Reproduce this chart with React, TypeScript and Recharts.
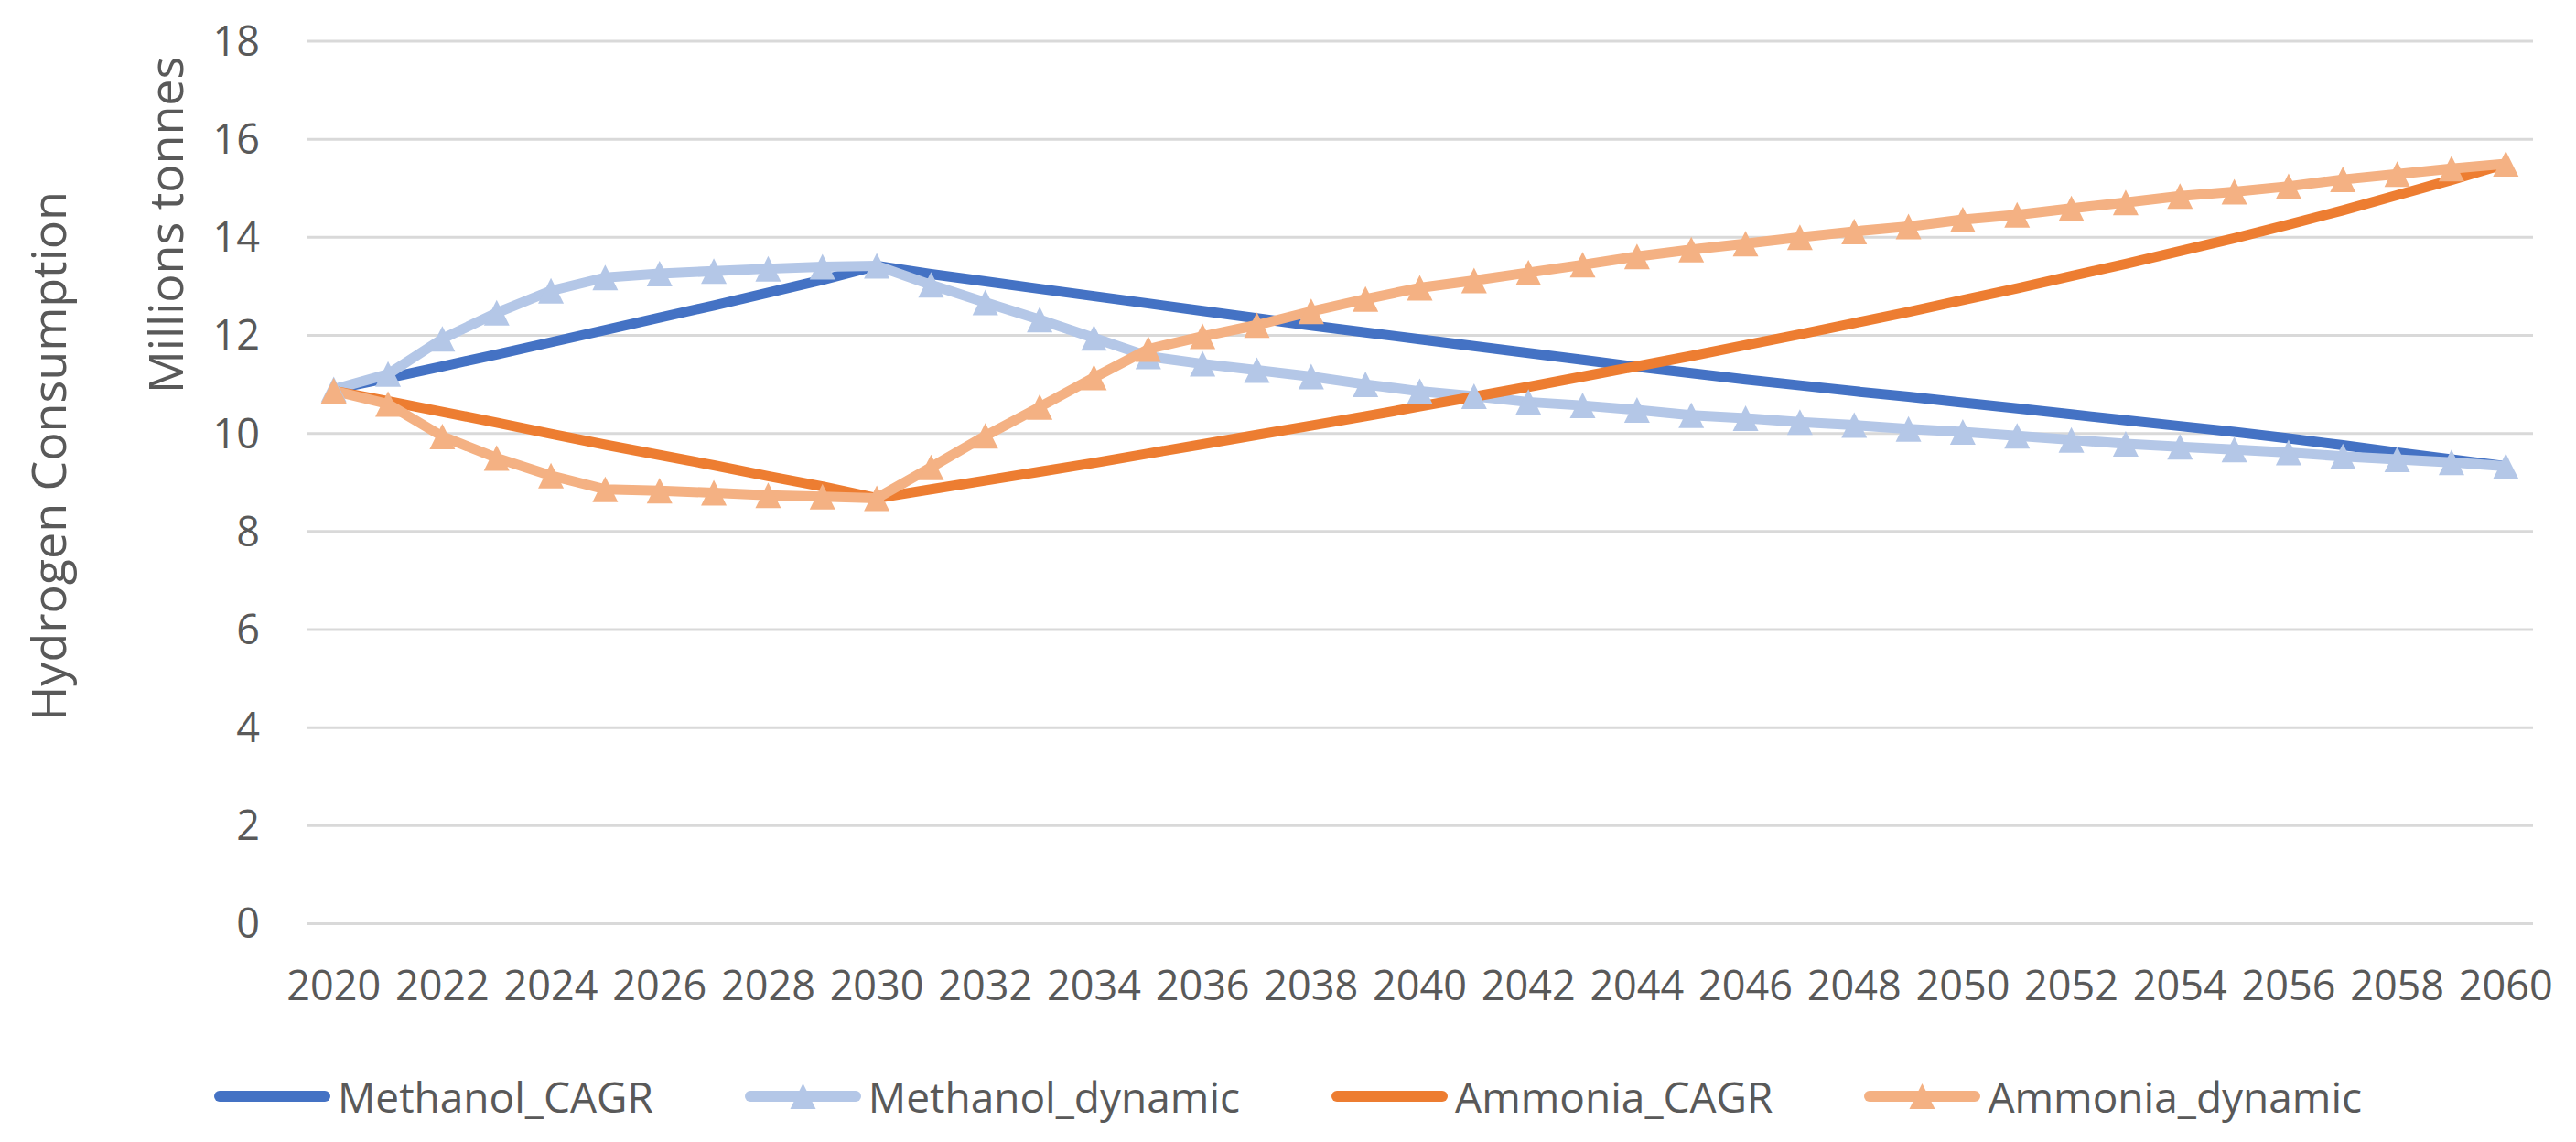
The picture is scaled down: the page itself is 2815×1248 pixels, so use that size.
import React from 'react';
import { LineChart, Line, XAxis, YAxis, CartesianGrid, Legend } from 'recharts';

const years = [
  '2020', '2021', '2022', '2023', '2024', '2025', '2026', '2027', '2028', '2029', '2030',
  '2031', '2032', '2033', '2034', '2035', '2036', '2037', '2038', '2039', '2040',
  '2041', '2042', '2043', '2044', '2045', '2046', '2047', '2048', '2049', '2050',
  '2051', '2052', '2053', '2054', '2055', '2056', '2057', '2058', '2059', '2060',
];

const methanolCAGR = [
  10.9, 11.13, 11.37, 11.61, 11.86, 12.11, 12.36, 12.61, 12.87, 13.13, 13.42,
  13.25, 13.1, 12.95, 12.8, 12.65, 12.5, 12.35, 12.2, 12.06, 11.92,
  11.78, 11.64, 11.5, 11.36, 11.23, 11.1, 10.98, 10.86, 10.75, 10.63,
  10.51, 10.39, 10.27, 10.15, 10.03, 9.9, 9.76, 9.61, 9.47, 9.33,
];

const methanolDynamic = [
  10.9, 11.21, 11.93, 12.46, 12.91, 13.18, 13.26, 13.31, 13.36, 13.4, 13.42,
  13.03, 12.67, 12.32, 11.95, 11.57, 11.42, 11.29, 11.16, 11.0, 10.86,
  10.76, 10.64, 10.57, 10.48, 10.37, 10.31, 10.23, 10.17, 10.09, 10.03,
  9.95, 9.87, 9.79, 9.73, 9.67, 9.61, 9.53, 9.47, 9.41, 9.33,
];

const ammoniaCAGR = [
  10.87, 10.66, 10.44, 10.22, 9.99, 9.77, 9.56, 9.35, 9.13, 8.92, 8.68,
  8.86, 9.04, 9.22, 9.4, 9.59, 9.78, 9.97, 10.16, 10.35, 10.55,
  10.75, 10.95, 11.16, 11.37, 11.58, 11.8, 12.02, 12.25, 12.48, 12.72,
  12.96, 13.21, 13.46, 13.72, 13.98, 14.26, 14.55, 14.86, 15.17, 15.5,
];

const ammoniaDynamic = [
  10.87, 10.6, 9.94, 9.5, 9.14, 8.86, 8.83, 8.79, 8.74, 8.71, 8.68,
  9.31, 9.95, 10.54, 11.14, 11.72, 11.98, 12.21, 12.49, 12.74, 12.97,
  13.12, 13.28, 13.44, 13.61, 13.75, 13.87, 14.0, 14.12, 14.22, 14.36,
  14.46, 14.59, 14.71, 14.84, 14.93, 15.04, 15.18, 15.29, 15.4, 15.5,
];

const yTicks = [0, 2, 4, 6, 8, 10, 12, 14, 16, 18];

const seriesNames = ['Methanol_CAGR', 'Methanol_dynamic', 'Ammonia_CAGR', 'Ammonia_dynamic'];
const seriesColors = ['#4472C4', '#B4C7E7', '#ED7D31', '#F4B183'];
const seriesMarkers = [false, true, false, true];

const yTitle = 'Hydrogen Consumption';
const yUnit = 'Millions tonnes';

const data = years.map((year, i) => ({
  year,
  Methanol_CAGR: methanolCAGR[i],
  Methanol_dynamic: methanolDynamic[i],
  Ammonia_CAGR: ammoniaCAGR[i],
  Ammonia_dynamic: ammoniaDynamic[i],
}));

const FONT = '"Open Sans", sans-serif';
const TEXT = '#595959';

const makeTriangle = (color: string) => (props: any) => {
  const { cx, cy, index } = props;
  if (cx == null || cy == null) return <g key={`n${index}`} />;
  const h = 14;
  return (
    <path
      key={`t${index}`}
      d={`M${cx},${cy - h}L${cx + h},${cy + h}L${cx - h},${cy + h}Z`}
      fill={color}
      stroke="none"
    />
  );
};

const renderLegend = () => (
  <div
    style={{
      display: 'flex',
      justifyContent: 'center',
      alignItems: 'center',
      fontFamily: FONT,
      fontSize: 46,
      color: TEXT,
      height: 60,
      gap: 100,
    }}
  >
    {seriesNames.map((name, i) => (
      <div key={name} style={{ display: 'flex', alignItems: 'center' }}>
        <svg width={127} height={40} style={{ display: 'block' }}>
          <line
            x1={6}
            y1={20}
            x2={121}
            y2={20}
            stroke={seriesColors[i]}
            strokeWidth={12}
            strokeLinecap="round"
          />
          {seriesMarkers[i] && (
            <path d="M63.5,6L77.5,34L49.5,34Z" fill={seriesColors[i]} />
          )}
        </svg>
        <span style={{ marginLeft: 8, lineHeight: '60px', whiteSpace: 'nowrap' }}>{name}</span>
      </div>
    ))}
  </div>
);

const renderYLabel = () => (
  <g>
    <text
      transform="translate(72,788) rotate(-90)"
      x={0}
      y={0}
      textAnchor="start"
      fontFamily={FONT}
      fontSize={52}
      fill={TEXT}
    >
      {yTitle}
    </text>
    <text
      transform="translate(200,430) rotate(-90)"
      x={0}
      y={0}
      textAnchor="start"
      fontFamily={FONT}
      fontSize={52}
      fill={TEXT}
    >
      {yUnit}
    </text>
  </g>
);

export default function App() {
  return (
    <div style={{ position: 'absolute', left: 0, top: 0, width: 2815, height: 1248, background: '#fff' }}>
      <LineChart
        width={2815}
        height={1248}
        data={data}
        margin={{ top: 45, right: 47, left: 0, bottom: 0 }}
      >
        <CartesianGrid vertical={false} stroke="#D9D9D9" strokeWidth={3} />
        <XAxis
          dataKey="year"
          interval={1}
          height={238.5}
          padding={{ left: 29.7, right: 29.7 }}
          tickLine={false}
          axisLine={false}
          tickSize={0}
          tickMargin={52}
          tick={{ fontFamily: FONT, fontSize: 45, fill: TEXT }}
        />
        <YAxis
          width={335}
          domain={[0, 18]}
          ticks={yTicks}
          interval={0}
          tickLine={false}
          axisLine={false}
          tickSize={0}
          tickMargin={51}
          tick={{ fontFamily: FONT, fontSize: 45, fill: TEXT }}
          label={{ content: renderYLabel }}
        />
        {seriesNames.map((name, i) => (
          <Line
            key={name}
            type="linear"
            dataKey={name}
            stroke={seriesColors[i]}
            strokeWidth={11}
            strokeLinejoin="round"
            strokeLinecap="round"
            dot={seriesMarkers[i] ? makeTriangle(seriesColors[i]) : false}
            activeDot={false}
            isAnimationActive={false}
          />
        ))}
        <Legend
          verticalAlign="middle"
          align="center"
          layout="horizontal"
          content={renderLegend}
          wrapperStyle={{ top: 1168, left: 0, width: 2815, height: 60 }}
        />
      </LineChart>
    </div>
  );
}
